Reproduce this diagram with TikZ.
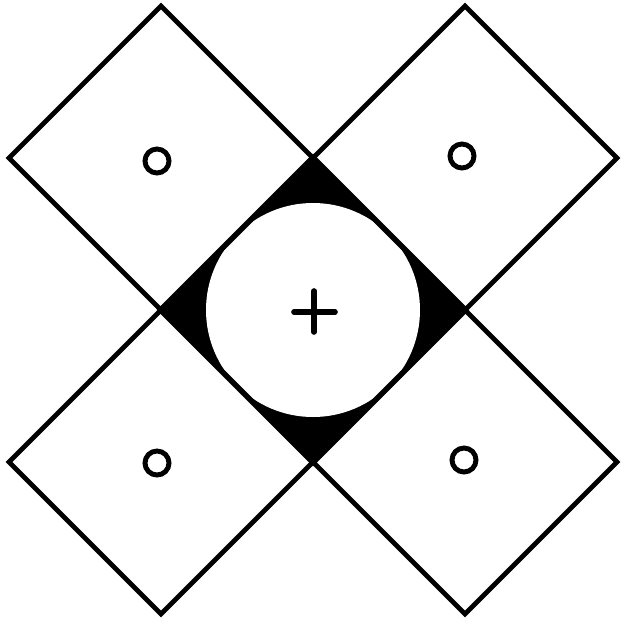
\documentclass[tikz,border=0pt]{standalone}
\usepackage{tikz}
\usetikzlibrary{calc}

\begin{document}
\begin{tikzpicture}[x=0.02cm,y=-0.02cm,line width=2.8pt,line join=miter]
  \useasboundingbox (0,0) rectangle (620,623);
  \coordinate (C) at (313,310);
  % middle square: black corners, white disc
  \fill (C) ++(0,-153) -- ++(153,153) -- ++(-153,153) -- ++(-153,-153) -- cycle;
  \fill[white] (C) circle (107);
  % four outer squares
  \foreach \dx/\dy in {-152/-152, 152/-152, -152/152, 152/152}
    \draw ($(C)+(\dx,\dy)$) ++(0,-152) -- ++(152,152) -- ++(-152,152) -- ++(-152,-152) -- cycle;
  \draw (C) ++(0,-153) -- ++(153,153) -- ++(-153,153) -- ++(-153,-153) -- cycle;
  % small rings
  \draw (157,161) circle (12); \draw (462,156) circle (12);
  \draw (157,463) circle (12); \draw (464,460) circle (12);
  % plus
  \draw[line cap=round,line width=3.2pt] (294,312) -- (335,312) (314,291) -- (314,332);
\end{tikzpicture}
\end{document}
